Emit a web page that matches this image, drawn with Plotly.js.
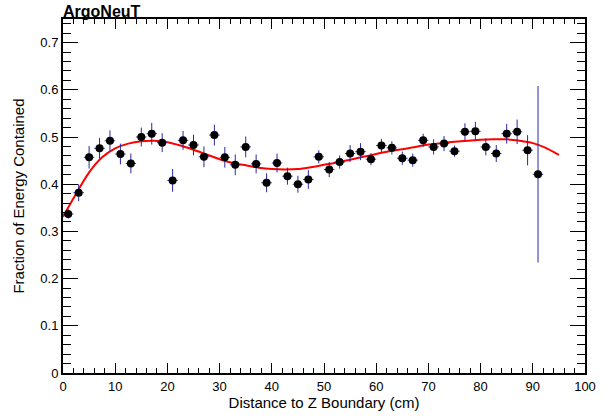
<!DOCTYPE html>
<html>
<head>
<meta charset="utf-8">
<script src="https://cdn.plot.ly/plotly-3.0.1.min.js"></script>
<style>html,body{margin:0;padding:0;background:#fff;}#chart{width:613px;height:418px;}</style>
</head>
<body>
<div id="chart"></div>
<script>
// Data points: distance to Z boundary (bin centres, cm)
const distance = [1,3,5,7,9,11,13,15,17,19,21,23,25,27,29,31,33,35,37,39,41,43,45,47,49,51,53,55,57,59,61,63,65,67,69,71,73,75,77,79,81,83,85,87,89,91];
const fraction = [0.337,0.382,0.457,0.476,0.492,0.464,0.444,0.500,0.507,0.488,0.408,0.493,0.483,0.458,0.504,0.457,0.441,0.479,0.443,0.403,0.445,0.417,0.400,0.410,0.458,0.431,0.447,0.465,0.469,0.453,0.482,0.477,0.455,0.451,0.493,0.479,0.486,0.470,0.511,0.512,0.479,0.465,0.507,0.511,0.472,0.421];
const fractionErr = [0.010,0.018,0.024,0.022,0.022,0.022,0.021,0.020,0.023,0.020,0.024,0.020,0.022,0.022,0.022,0.022,0.022,0.022,0.020,0.020,0.020,0.018,0.018,0.020,0.014,0.016,0.014,0.018,0.018,0.013,0.014,0.014,0.014,0.014,0.014,0.016,0.016,0.012,0.018,0.020,0.018,0.018,0.021,0.026,0.032,0.187];
const binHalfWidth = [1,1,1,1,1,1,1,1,1,1,1,1,1,1,1,1,1,1,1,1,1,1,1,1,1,1,1,1,1,1,1,1,1,1,1,1,1,1,1,1,1,1,1,1,1,1];

// Fit curve samples
const fitX = [0,2.5,5,7.5,10,12.5,15,17.5,20,22.5,25,27.5,30,32.5,35,37.5,40,42.5,45,47.5,50,52.5,55,57.5,60,62.5,65,67.5,70,72.5,75,77.5,80,82.5,85,87.5,90,92.5,95];
const fitY = [0.331,0.380,0.425,0.457,0.476,0.486,0.491,0.492,0.489,0.482,0.473,0.463,0.453,0.445,0.440,0.435,0.432,0.431,0.432,0.436,0.441,0.446,0.452,0.458,0.464,0.470,0.474,0.479,0.484,0.487,0.490,0.492,0.494,0.495,0.495,0.492,0.487,0.477,0.462];

const xTickVals = [0,10,20,30,40,50,60,70,80,90,100];
const yTickVals = [0,0.1,0.2,0.3,0.4,0.5,0.6,0.7];
const yTickText = ['0','0.1','0.2','0.3','0.4','0.5','0.6','0.7'];

const font = 'Liberation Sans, Arial, Helvetica, sans-serif';

const traces = [
  {
    x: fitX, y: fitY, type: 'scatter', mode: 'lines',
    line: {color: '#ff0000', width: 2, shape: 'spline', smoothing: 0.6},
    hoverinfo: 'skip', showlegend: false
  },
  {
    x: distance, y: fraction, type: 'scatter', mode: 'markers',
    marker: {color: '#000000', size: 8, symbol: 'circle'},
    error_y: {type: 'data', array: fractionErr, visible: true, color: '#2828a8', thickness: 1, width: 0},
    error_x: {type: 'data', array: binHalfWidth, visible: true, color: '#2828a8', thickness: 1, width: 0},
    showlegend: false
  }
];

const layout = {
  width: 613, height: 418,
  margin: {l: 63, r: 28, t: 19, b: 45, pad: 0},
  paper_bgcolor: '#ffffff', plot_bgcolor: '#ffffff',
  font: {family: font, color: '#000000', size: 13},
  showlegend: false,
  title: {
    text: '<b>ArgoNeuT</b>', font: {family: font, size: 16, color: '#000'},
    xref: 'paper', x: 0, xanchor: 'left',
    yref: 'container', y: 0.973, yanchor: 'middle'
  },
  xaxis: {
    range: [0, 100], showgrid: false, zeroline: false,
    showline: true, linecolor: '#000', linewidth: 2, mirror: 'allticks',
    ticks: 'inside', ticklen: 10, tickwidth: 1, tickcolor: '#000',
    tickvals: xTickVals, ticktext: xTickVals.map(String),
    tickfont: {size: 13, family: font},
    minor: {dtick: 2, tick0: 0, ticks: 'inside', ticklen: 5, tickwidth: 1, tickcolor: '#000', showgrid: false},
    title: {text: 'Distance to Z Boundary (cm)', font: {size: 15, family: font}, standoff: 1},
    automargin: false
  },
  yaxis: {
    range: [0, 0.75], showgrid: false, zeroline: false,
    showline: true, linecolor: '#000', linewidth: 2, mirror: 'allticks',
    ticks: 'inside', ticklen: 15, tickwidth: 1, tickcolor: '#000',
    tickvals: yTickVals, ticktext: yTickText,
    tickfont: {size: 13, family: font},
    minor: {dtick: 0.02, tick0: 0, ticks: 'inside', ticklen: 8, tickwidth: 1, tickcolor: '#000', showgrid: false},
    title: {text: 'Fraction of Energy Contained', font: {size: 15, family: font}, standoff: 12},
    automargin: false
  }
};

Plotly.newPlot('chart', traces, layout, {displayModeBar: false, staticPlot: true});
</script>
</body>
</html>
